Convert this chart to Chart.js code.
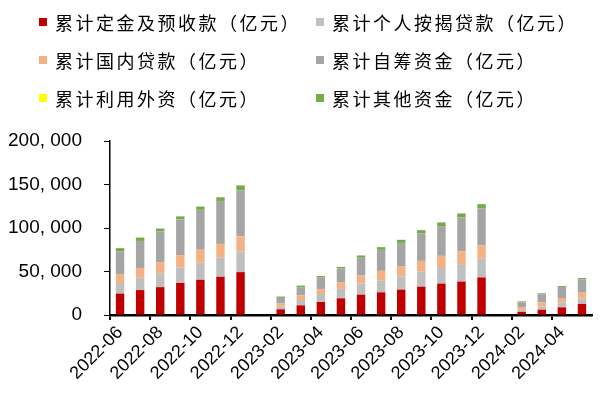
<!DOCTYPE html>
<html>
<head>
<meta charset="utf-8">
<script src="https://cdn.jsdelivr.net/npm/chart.js@4.4.0/dist/chart.umd.min.js"></script>
<style>
    body { margin: 0; background: #fff; }
    #wrap { position: relative; width: 608px; height: 394px; }
    #legend {
        position: absolute; left: 39px; top: 3px;
        display: grid; grid-template-columns: 277px 260px; grid-auto-rows: 38px;
        font-family: "Noto Sans CJK SC", sans-serif; font-size: 18px; letter-spacing: 2.5px; color: #000;
    }
    .item { display: flex; align-items: center; white-space: nowrap; }
    .box { width: 8px; height: 8px; margin-right: 8px; flex: none; }
</style>
</head>
<body>
<div id="wrap">
    <canvas id="chart" width="608" height="394"></canvas>
    <div id="legend"></div>
</div>
<script>
// Months (cumulative figures, 亿元)
const months = [
    '2022-06', '2022-07', '2022-08', '2022-09', '2022-10', '2022-11', '2022-12',
    '2023-01', '2023-02', '2023-03', '2023-04', '2023-05', '2023-06', '2023-07',
    '2023-08', '2023-09', '2023-10', '2023-11', '2023-12',
    '2024-01', '2024-02', '2024-03', '2024-04', '2024-05'
];

const deposits = [24601, 28649, 32000, 36900, 40500, 44000, 49289,
    null, 6600, 11100, 15000, 19200, 23400, 26100, 29200, 32600, 36100, 38400, 43202,
    null, 3600, 6100, 8800, 12778];
const mortgages = [12158, 14123, 16000, 18000, 19600, 21800, 23815,
    null, 3500, 6200, 9200, 10800, 12700, 13800, 15300, 17300, 18000, 20000, 21489,
    null, 2300, 3500, 5800, 6323];
const domesticLoans = [9806, 11302, 12700, 13900, 14900, 15900, 17388,
    null, 3100, 5400, 5800, 7200, 9200, 10800, 11200, 12300, 13900, 14600, 15595,
    null, 3300, 5000, 5000, 6533];
const selfRaised = [26655, 31001, 35500, 41000, 45800, 49300, 52940,
    null, 6500, 8800, 13000, 16200, 20400, 24200, 27200, 31500, 34200, 39100, 41989,
    null, 5400, 9200, 12700, 15337];
const foreignCapital = [48, 57, 72, 77, 77, 77, 78,
    null, 10, 13, 15, 20, 25, 30, 35, 40, 40, 45, 47,
    null, 5, 8, 10, 13];
const otherFunds = [3579, 3898, 3100, 3500, 3800, 4200, 5469,
    null, 1500, 2300, 1900, 1900, 2700, 3100, 3500, 3800, 4200, 4600, 5137,
    null, 1100, 1200, 1100, 1587];

const series = [
    { label: '累计定金及预收款（亿元）', data: deposits, color: '#C00000' },
    { label: '累计个人按揭贷款（亿元）', data: mortgages, color: '#BFBFBF' },
    { label: '累计国内贷款（亿元）', data: domesticLoans, color: '#F4B183' },
    { label: '累计自筹资金（亿元）', data: selfRaised, color: '#A5A5A5' },
    { label: '累计利用外资（亿元）', data: foreignCapital, color: '#FFFF00' },
    { label: '累计其他资金（亿元）', data: otherFunds, color: '#70AD47' }
];

const tickFont = { family: '"Liberation Sans", Arial, sans-serif', size: 18 };

const chart = new Chart(document.getElementById('chart'), {
    type: 'bar',
    data: {
        labels: months,
        datasets: series.map(s => ({
            label: s.label,
            data: s.data,
            backgroundColor: s.color,
            borderWidth: 0,
            categoryPercentage: 1,
            barPercentage: 0.42
        }))
    },
    options: {
        responsive: false,
        animation: false,
        layout: { padding: { top: 141, left: 8, right: 16, bottom: 8 } },
        plugins: { legend: { display: false }, tooltip: { enabled: false } },
        scales: {
            x: {
                stacked: true,
                offset: true,
                grid: {
                    offset: true,
                    drawOnChartArea: false,
                    tickLength: 5,
                    lineWidth: 2,
                    color: ctx => (ctx.index % 2 === 0 ? '#000' : 'rgba(0,0,0,0)')
                },
                border: { color: '#000', width: 2.5 },
                ticks: {
                    autoSkip: false,
                    maxRotation: 45,
                    minRotation: 45,
                    padding: 2,
                    color: '#000',
                    font: tickFont,
                    callback: function (value, index) {
                        return index % 2 === 0 ? this.getLabelForValue(value) : '';
                    }
                },
                // rotated labels fit already, don't let them push the plot inwards
                afterFit: scale => { scale.paddingLeft = 0; scale.paddingRight = 0; }
            },
            y: {
                stacked: true,
                min: 0,
                max: 200000,
                grid: { drawOnChartArea: false, tickLength: 6, color: '#000', lineWidth: 1 },
                border: { color: '#000', width: 1.5 },
                ticks: {
                    stepSize: 50000,
                    padding: 22,
                    color: '#000',
                    font: { family: '"Liberation Sans", Arial, sans-serif', size: 19 },
                    callback: v => v.toLocaleString('en-US').replace(/,/g, ', ')
                },
                afterFit: scale => { scale.width = 102; }
            }
        }
    }
});

// HTML legend, two columns like the original
const legendEl = document.getElementById('legend');
chart.data.datasets.forEach(ds => {
    const item = document.createElement('div');
    item.className = 'item';
    item.innerHTML = `<span class="box" style="background:${ds.backgroundColor}"></span><span>${ds.label}</span>`;
    legendEl.appendChild(item);
});
</script>
</body>
</html>
